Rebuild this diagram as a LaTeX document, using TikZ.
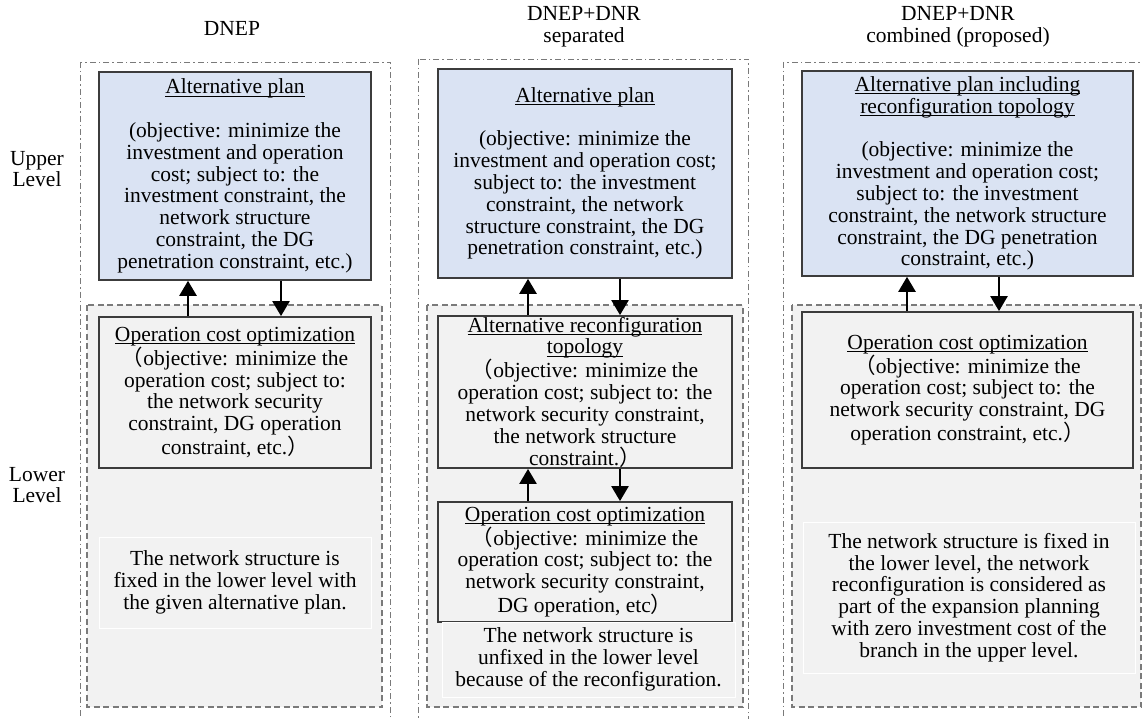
\documentclass[tikz,border=0pt]{standalone}
\usepackage{fontspec}
\setmainfont{Liberation Serif}
\newfontfamily\cjk{Noto Sans CJK SC}
\usetikzlibrary{arrows.meta}
\definecolor{planblue}{HTML}{DAE3F3}
\definecolor{lowgray}{HTML}{F2F2F2}
\definecolor{edgegray}{HTML}{3C3C3C}
\definecolor{dashgray}{HTML}{7A7A7A}
\newcommand\myul[1]{\setbox0\hbox{#1}\rlap{\rule[-3pt]{\wd0}{1pt}}\box0}
\newcommand\lpar{{\cjk （}}
\newcommand\rpar{{\cjk ）}}
\tikzset{
  txt/.style={font=\fontsize{21.5}{21.8}\selectfont, align=center, inner sep=0pt},
  planbox/.style={txt, draw=edgegray, line width=1.6pt, fill=planblue},
  optbox/.style={txt, draw=edgegray, line width=1.8pt, fill=lowgray},
  notebox/.style={txt, draw=white, line width=1pt, fill=lowgray},
  panel/.style={draw=dashgray, line width=0.9pt, dash pattern=on 6pt off 3pt on 1.5pt off 3pt},
  lowerzone/.style={draw=dashgray, line width=1.3pt, dash pattern=on 6pt off 3.5pt, fill=lowgray},
  arr/.style={line width=2.4pt, -{Triangle[width=17pt,length=15pt]}},
  lbl/.style={font=\fontsize{21.5}{21.8}\selectfont, align=center, inner sep=0pt}
}
\begin{document}
\begin{tikzpicture}[x=1pt,y=-1pt]
\useasboundingbox (0,0) rectangle (1142,719);
\clip (0,0) rectangle (1142,719);
\fill[white] (0,0) rectangle (1142,719);

% titles and side labels
\node[lbl] (h1) at (232,28) {DNEP};
\node[lbl] (h2) at (584,27) {DNEP+DNR\\separated};
\node[lbl] (h3) at (958,27) {DNEP+DNR\\combined (proposed)};
\node[lbl] (up) at (37,169) {Upper\\Level};
\node[lbl] (lo) at (37,485) {Lower\\Level};

% panels
\draw[panel] (80,62) rectangle (390,725);
\draw[panel] (418,59) rectangle (748,725);
\draw[panel] (783,62) rectangle (1160,725);

\draw[lowerzone] (87,305) rectangle (382,707);
\draw[lowerzone] (427,305) rectangle (743,707);
\draw[lowerzone] (792,305) rectangle (1141,707);

% panel 1
\node[planbox, minimum width=272pt, minimum height=208pt] (b1) at (235,176) {\myul{Alternative plan}\\[21.8pt]
(objective: minimize the\\investment and operation\\cost; subject to: the\\investment constraint, the\\network structure\\constraint, the DG\\penetration constraint, etc.)};
\node[optbox, minimum width=272pt, minimum height=151pt] (o1) at (235,392.5) {\myul{Operation cost optimization}\\
\lpar objective: minimize the\\operation cost; subject to:\\the network security\\constraint, DG operation\\constraint, etc.\rpar};
\node[notebox, minimum width=272pt, minimum height=91pt] (t1) at (235,582.5) {The network structure is\\fixed in the lower level with\\the given alternative plan.};

% panel 2
\node[planbox, minimum width=294pt, minimum height=209pt] (b2) at (585,173.5) {\myul{Alternative plan}\\[21.8pt]
(objective: minimize the\\investment and operation cost;\\subject to: the investment\\constraint, the network\\structure constraint, the DG\\penetration constraint, etc.)};
\node[optbox, minimum width=294pt, minimum height=152pt] (r2) at (585,392) {\myul{Alternative reconfiguration}\\\myul{topology}\\
\lpar objective: minimize the\\operation cost; subject to: the\\network security constraint,\\the network structure\\constraint.\rpar};
\node[optbox, minimum width=294pt, minimum height=120pt] (o2) at (585,562) {\myul{Operation cost optimization}\\
\lpar objective: minimize the\\operation cost; subject to: the\\network security constraint,\\DG operation, etc\rpar};
\node[notebox, minimum width=293pt, minimum height=75pt] (t2) at (588.5,659.5) {The network structure is\\unfixed in the lower level\\because of the reconfiguration.};

% panel 3
\node[planbox, minimum width=331pt, minimum height=205pt] (b3) at (967.5,173.5) {\myul{Alternative plan including}\\\myul{reconfiguration topology}\\[21.8pt]
(objective: minimize the\\investment and operation cost;\\subject to: the investment\\constraint, the network structure\\constraint, the DG penetration\\constraint, etc.)};
\node[optbox, minimum width=331pt, minimum height=156pt] (o3) at (967.5,390) {\myul{Operation cost optimization}\\
\lpar objective: minimize the\\operation cost; subject to: the\\network security constraint, DG\\operation constraint, etc.\rpar};
\node[notebox, minimum width=332pt, minimum height=151pt] (t3) at (969,597.5) {The network structure is fixed in\\the lower level, the network\\reconfiguration is considered as\\part of the expansion planning\\with zero investment cost of the\\branch in the upper level.};

% arrow columns
\coordinate (ua) at (188,0);
\coordinate (da) at (281,0);
\coordinate (ub) at (528,0);
\coordinate (db) at (620,0);
\coordinate (uc) at (907,0);
\coordinate (dc) at (999,0);

\draw[arr] (o1.north -| ua) -- (b1.south -| ua);
\draw[arr] (b1.south -| da) -- (o1.north -| da);
\draw[arr] (r2.north -| ub) -- (b2.south -| ub);
\draw[arr] (b2.south -| db) -- (r2.north -| db);
\draw[arr] (o2.north -| ub) -- (r2.south -| ub);
\draw[arr] (r2.south -| db) -- (o2.north -| db);
\draw[arr] (o3.north -| uc) -- (b3.south -| uc);
\draw[arr] (b3.south -| dc) -- (o3.north -| dc);
\end{tikzpicture}
\end{document}
